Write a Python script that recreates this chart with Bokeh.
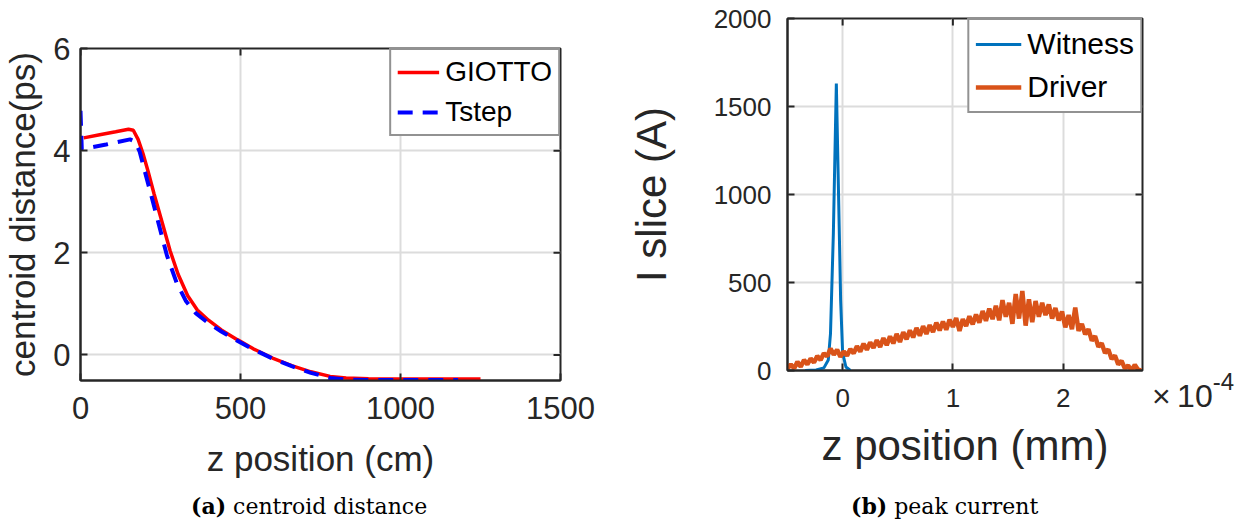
import math
from bokeh.plotting import figure
from bokeh.models import Range1d, FixedTicker, Div
from bokeh.layouts import row, column
from bokeh.embed import file_html
from bokeh.resources import INLINE

# ---------------- data: (a) centroid distance ----------------
giotto_z = [10, 60, 110, 150, 165, 180, 195, 210, 230, 255, 280, 305, 335, 365, 400,
            440, 490, 540, 600, 660, 720, 780, 830, 900, 1000, 1100, 1250]
giotto_d = [4.25, 4.31, 4.37, 4.42, 4.40, 4.22, 3.95, 3.62, 3.15, 2.60, 2.04, 1.58, 1.16,
            0.88, 0.68, 0.49, 0.30, 0.12, -0.06, -0.21, -0.33, -0.42, -0.45, -0.465,
            -0.47, -0.47, -0.47]
tstep_z = [0, 4, 20, 80, 155, 170, 185, 200, 220, 245, 270, 300, 330, 360, 400, 440,
           490, 540, 600, 660, 720, 780, 830, 900, 1000, 1100, 1180]
tstep_d = [4.78, 4.03, 4.05, 4.12, 4.22, 4.18, 3.98, 3.62, 3.15, 2.55, 1.95, 1.42, 1.05,
           0.82, 0.62, 0.46, 0.28, 0.11, -0.07, -0.22, -0.35, -0.45, -0.48, -0.49,
           -0.49, -0.49, -0.49]
a_xrange = (0, 1500)
a_yrange = (-0.5, 6)
a_xticks = [0, 500, 1000, 1500]
a_yticks = [0, 2, 4, 6]

# ---------------- data: (b) peak current (z in units of 1e-4 mm) ----------------
witness_z = [-0.34, -0.24, -0.17, -0.13, -0.11, -0.084, -0.057, -0.036, -0.018, 0.0, 0.03, 0.07]
witness_i = [0, 3, 15, 60, 210, 780, 1630, 970, 400, 100, 20, 0]

driver_z = [-0.50, -0.47, -0.44, -0.41, -0.38, -0.35, -0.32, -0.29, -0.26, -0.23, -0.20,
            -0.17, -0.14, -0.11, -0.08, -0.05, -0.02, 0.01, 0.04, 0.07, 0.10, 0.13, 0.16,
            0.19, 0.22, 0.25, 0.28, 0.31, 0.34, 0.37, 0.40, 0.43, 0.46, 0.49, 0.52, 0.55,
            0.58, 0.61, 0.64, 0.67, 0.70, 0.73, 0.76, 0.79, 0.82, 0.85, 0.88, 0.91, 0.94,
            0.97, 1.00, 1.03, 1.06, 1.09, 1.12, 1.15, 1.18, 1.21, 1.24, 1.27, 1.30, 1.33,
            1.36, 1.39, 1.42, 1.45, 1.48, 1.51, 1.54, 1.57, 1.60, 1.63, 1.66, 1.69, 1.72,
            1.75, 1.78, 1.81, 1.84, 1.87, 1.90, 1.93, 1.96, 1.99, 2.02, 2.05, 2.08, 2.11,
            2.14, 2.17, 2.20, 2.23, 2.26, 2.29, 2.32, 2.35, 2.38, 2.41, 2.44, 2.47, 2.50,
            2.53, 2.56, 2.59, 2.62, 2.65, 2.68, 2.71]
driver_i = [10, 35, 12, 50, 22, 60, 35, 68, 45, 82, 60,
            98, 80, 125, 90, 118, 78, 108, 84, 122, 98, 138, 108,
            152, 118, 160, 128, 172, 134, 184, 144, 194, 154, 208, 162, 218,
            178, 228, 188, 242, 198, 252, 208, 258, 218, 272, 228, 278, 232,
            288, 248, 298, 225, 292, 252, 308, 262, 318, 272, 338, 282, 352,
            292, 368, 285, 400, 305, 385, 265, 435, 295, 452, 255, 405, 275,
            395, 305, 385, 315, 375, 295, 355, 285, 335, 245, 315, 235, 358,
            225, 265, 205, 235, 170, 195, 135, 155, 100, 120, 65, 85, 35,
            55, 12, 28, 0, 32, 4, 0]
b_xrange = (-0.5, 2.72)
b_yrange = (0, 2000)
b_xticks = [0, 1, 2]
b_yticks = [0, 500, 1000, 1500, 2000]

AX = "#262626"
FONT = "Liberation Sans"
SERIF = "DejaVu Serif"


def style(p, xticks, yticks, xr, yr, tick_size, label_size, xstand, xlstand, ystand, ylstand):
    p.background_fill_color = "white"
    p.border_fill_color = "white"
    p.outline_line_color = AX
    p.outline_line_width = 2
    p.xaxis.ticker = FixedTicker(ticks=xticks)
    p.yaxis.ticker = FixedTicker(ticks=yticks)
    for ax in p.axis:
        ax.axis_line_color = AX
        ax.axis_line_width = 2
        ax.major_tick_line_color = AX
        ax.major_tick_line_width = 2
        ax.major_tick_in = 7
        ax.major_tick_out = 0
        ax.minor_tick_line_color = None
        ax.major_label_text_font = FONT
        ax.major_label_text_font_size = tick_size
        ax.major_label_text_color = AX
        ax.axis_label_text_font = FONT
        ax.axis_label_text_font_size = label_size
        ax.axis_label_text_font_style = "normal"
        ax.axis_label_text_color = AX
    p.xaxis.major_label_standoff = xstand
    p.xaxis.axis_label_standoff = xlstand
    p.yaxis.major_label_standoff = ystand
    p.yaxis.axis_label_standoff = ylstand
    p.grid.grid_line_color = "#dcdcdc"
    p.grid.grid_line_width = 2
    # inward tick marks on the top and right sides of the box (half clipped by the frame)
    p.scatter(xticks, [yr[1]] * len(xticks), marker="dash", angle=math.pi / 2, size=14,
              line_color=AX, line_width=2)
    p.scatter([xr[1]] * len(yticks), yticks, marker="dash", angle=0, size=14,
              line_color=AX, line_width=2)


def style_legend(p, size, glyph_w, item_h, spacing, padding):
    lg = p.legend[0]
    lg.location = "top_right"
    lg.margin = 0
    lg.padding = padding
    lg.spacing = spacing
    lg.glyph_width = glyph_w
    lg.glyph_height = item_h
    lg.label_height = item_h
    lg.label_standoff = 6
    lg.label_text_font = FONT
    lg.label_text_font_size = size
    lg.label_text_color = "black"
    lg.border_line_color = AX
    lg.border_line_width = 2
    lg.background_fill_color = "white"
    lg.background_fill_alpha = 1.0


# ---------------- figure (a) ----------------
pa = figure(frame_width=480, frame_height=332,
            x_range=Range1d(*a_xrange), y_range=Range1d(*a_yrange),
            min_border_left=80, min_border_right=62, min_border_top=48, min_border_bottom=106,
            x_axis_label="z position (cm)", y_axis_label="centroid distance(ps)",
            output_backend="svg", toolbar_location=None)
pa.line(giotto_z, giotto_d, line_color="#ff0000", line_width=3.5, legend_label="GIOTTO")
pa.line(tstep_z, tstep_d, line_color="#0000ff", line_width=4, line_dash="15 10",
        legend_label="Tstep")
style(pa, a_xticks, a_yticks, a_xrange, a_yrange, "31px", "35px", 16, 17, 10, 8)
style_legend(pa, "28px", 42, 30, 8, 6)

# ---------------- figure (b) ----------------
pb = figure(frame_width=355, frame_height=352,
            x_range=Range1d(*b_xrange), y_range=Range1d(*b_yrange),
            min_border_left=165, min_border_right=8, min_border_top=18, min_border_bottom=116,
            x_axis_label="z position (mm)", y_axis_label="I slice (A)",
            output_backend="svg", toolbar_location=None)
pb.line(witness_z, witness_i, line_color="#0072BD", line_width=3, legend_label="Witness")
pb.line(driver_z, driver_i, line_color="#D95319", line_width=4.5, legend_label="Driver")
style(pb, b_xticks, b_yticks, b_xrange, b_yrange, "26px", "42px", 18, 12, 16, 36)
style_legend(pb, "30px", 46, 36, 7, 6)

# ---------------- exponent and captions ----------------
div_x = Div(width=110, height=486, margin=0,
            text=("<div style=\"margin:380px 0 0 2px; font-family:'Liberation Sans'; "
                  "font-size:32px; line-height:32px; color:#262626; white-space:nowrap\">"
                  "\u00d7\u200910<span style=\"font-size:24px; position:relative; top:-17px\">-4</span></div>"))
div_a = Div(width=622, height=38, margin=0,
            text=("<div style=\"margin:9px 0 0 191px; font-family:'DejaVu Serif'; "
                  "font-size:22px; line-height:22px; color:black; white-space:nowrap\">"
                  "<b>(a)</b> centroid distance</div>"))
div_b = Div(width=638, height=38, margin=0,
            text=("<div style=\"margin:9px 0 0 229px; font-family:'DejaVu Serif'; "
                  "font-size:22px; line-height:22px; color:black; white-space:nowrap\">"
                  "<b>(b)</b> peak current</div>"))

layout = row(column(pa, div_a), column(row(pb, div_x), div_b))
open("out.html", "w").write(file_html(layout, INLINE))
